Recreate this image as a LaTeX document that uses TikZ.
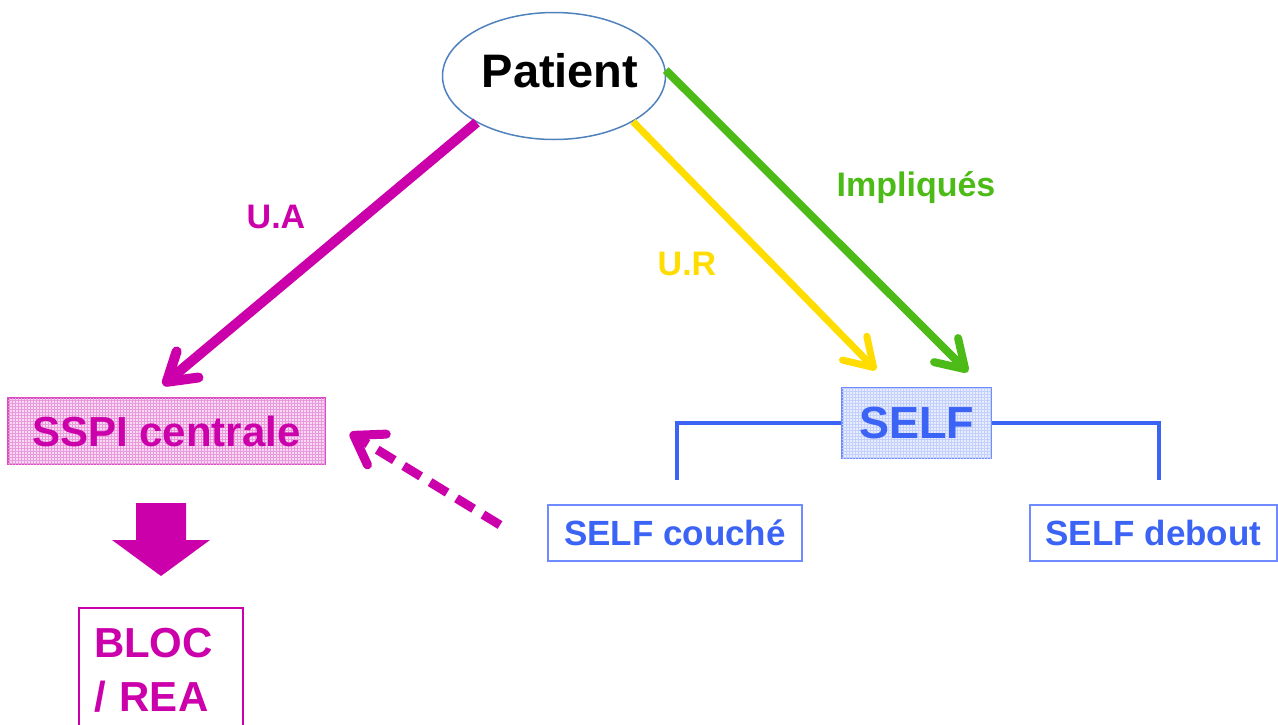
\documentclass[tikz,border=0pt]{standalone}
\usepackage{fontspec}
\setmainfont{Liberation Sans}
\usetikzlibrary{arrows.meta,shapes.geometric,patterns}
\definecolor{magC}{RGB}{204,0,170}
\definecolor{yelC}{RGB}{255,221,0}
\definecolor{grnC}{RGB}{76,187,23}
\definecolor{bluC}{RGB}{59,99,245}
\definecolor{bluL}{RGB}{110,140,255}
\definecolor{ellC}{RGB}{79,129,189}
\tikzset{
  lbl/.style={font=\fontsize{34}{40}\selectfont\bfseries, inner sep=0pt},
  bigarrow/.style={line width=#1, -{Straight Barb[length=27pt,width=34pt,round]}},
  gridpink/.style={draw=magC!70, line width=1.5pt, fill=magC!14,
     postaction={pattern=grid, pattern color=magC!40}},
  gridblue/.style={draw=bluL, line width=1.5pt, fill=bluC!12,
     postaction={pattern=grid, pattern color=bluC!30}},
  selfbox/.style={draw=bluL, line width=2pt, fill=white, inner sep=0pt,
     text=bluC, font=\fontsize{35}{40}\selectfont\bfseries},
}
\begin{document}
\begin{tikzpicture}[x=1pt,y=-1pt]
\useasboundingbox (0,0) rectangle (1278,724);

% Patient
\node[ellipse, draw=ellC, line width=1.5pt, minimum width=223, minimum height=127, inner sep=0pt] (P) at (554,76) {};
\node[inner sep=0pt, font=\fontsize{47}{52}\selectfont\bfseries] (Pt) at (560,71) {Patient};

% SELF
\node[gridblue, minimum width=149, minimum height=70, inner sep=0pt, text=bluC,
      font=\fontsize{45}{50}\selectfont\bfseries] (S) at (916.5,423) {SELF};

% SELF couche / debout
\node[selfbox, minimum width=254, minimum height=56] (SC) at (675,533) {SELF couché};
\node[selfbox, minimum width=247, minimum height=56] (SD) at (1153.5,533) {SELF debout};

% SSPI
\node[gridpink, minimum width=317, minimum height=66, inner sep=0pt, text=magC,
      font=\fontsize{42}{48}\selectfont\bfseries] (SSPI) at (166.5,431) {SSPI centrale};

% BLOC / REA
\node[draw=magC, line width=2pt, minimum width=164, minimum height=125, inner sep=0pt,
      text width=134, align=left, text=magC,
      font=\fontsize{42}{54}\selectfont\bfseries] (BR) at (161,670.5) {BLOC\\/ REA};

% arrow tips / free ends
\coordinate (tUA) at (163,385);
\coordinate (tUR) at (876,370);
\coordinate (tIM) at (968,372);
\coordinate (lc) at (677,480);
\coordinate (rc) at (1159,480);
\coordinate (dS) at (500,525);
\coordinate (dT) at (350,433);

\draw[magC, bigarrow=10pt] (P.211.5) -- (tUA);
\draw[yelC, bigarrow=7pt] (P.330) -- (tUR);
\draw[grnC, bigarrow=8pt] (P.3) -- (tIM);

\draw[magC, line width=9pt, dash pattern=on 20pt off 11pt,
      -{Straight Barb[length=27pt,width=36pt,round]}] (dS) -- (dT);

\draw[bluC, line width=4.5pt] (S.west) -| (lc);
\draw[bluC, line width=4.5pt] (S.east) -| (rc);

% block arrow
\fill[magC] (136,503) -- (186,503) -- (186,540) -- (210,540) -- (161,576)
  -- (112,540) -- (136,540) -- cycle;

% labels
\node[lbl, text=magC] (lUA) at (276,217) {U.A};
\node[lbl, text=yelC] (lUR) at (687,264) {U.R};
\node[lbl, text=grnC] (lIM) at (916,188) {Impliqués};
\end{tikzpicture}
\end{document}
